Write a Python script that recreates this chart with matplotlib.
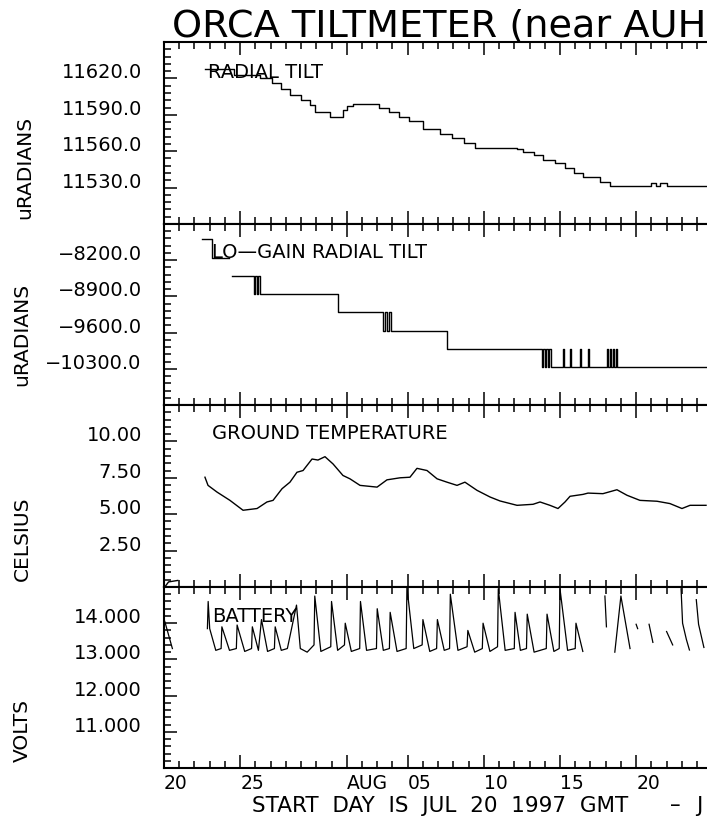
import matplotlib.pyplot as plt
import numpy as np

# x axis: days since JUL 20 1997 (GMT)
day_ticks = [0, 5, 12, 16, 21, 26, 31]
day_labels = ['20', '25', 'AUG', '05', '10', '15', '20']

# radial tilt (uRADIANS), step values
tilt_day = [2.7, 4.6, 6.3, 7.1, 7.7, 8.3, 9.0, 9.6, 9.9, 10.9, 11.75, 12.0, 12.4,
            14.1, 14.8, 15.4, 16.1, 17.0, 18.1, 18.9, 19.7, 20.4, 23.2, 23.6, 24.3,
            24.9, 25.7, 26.3, 26.9, 27.5, 28.6, 29.3, 32.0, 32.3, 32.6, 33.0, 35.6]
tilt_val = [11628, 11623, 11620, 11616, 11611, 11606, 11602, 11598, 11592, 11588,
            11594, 11597, 11599, 11596, 11592, 11588, 11585, 11578, 11574, 11571,
            11567, 11563, 11562, 11559, 11557, 11553, 11550, 11546, 11542, 11539,
            11535, 11531, 11534, 11531, 11534, 11531, 11531]
tilt_ticks = [11530, 11560, 11590, 11620]
tilt_labels = ['11530.0', '11560.0', '11590.0', '11620.0']

# lo-gain radial tilt (uRADIANS), step values
lo_day = [2.5, 3.15, 4.3, 4.45, 5.9, 6.0, 6.1, 6.2, 6.3, 11.4, 14.38, 14.5, 14.64,
          14.75, 14.9, 18.6, 24.8, 24.9, 25.0, 25.1, 25.2, 25.3, 25.4, 26.2, 26.25,
          26.65, 26.7, 27.3, 27.35, 27.85, 27.9, 29.1, 29.15, 29.3, 29.35, 29.5,
          29.55, 29.7, 29.75, 35.6]
lo_val = [-7790, -8150, np.nan, -8500, -8860, -8500, -8860, -8500, -8860, -9205,
          -9565, -9205, -9565, -9205, -9565, -9910, -10270, -9910, -10270, -9910,
          -10270, -9910, -10270, -9910, -10270, -9910, -10270, -9910, -10270,
          -9910, -10270, -9910, -10270, -9910, -10270, -9910, -10270, -9910,
          -10270, -10270]
lo_ticks = [-10300, -9600, -8900, -8200]
lo_labels = ['\u221210300.0', '\u22129600.0', '\u22128900.0', '\u22128200.0']

# ground temperature (CELSIUS)
temp_day = [0.05, 0.3, 0.9, 1.0,
            2.69, 2.89, 3.48, 4.33, 5.19, 6.11, 6.76, 7.16, 7.75, 8.27,
            8.73, 9.13, 9.72, 10.11, 10.57, 11.10, 11.75, 12.21, 12.87, 13.99,
            14.64, 15.50, 16.15, 16.61, 17.27, 17.93, 18.58, 19.24, 19.76, 20.55,
            21.41, 22.06, 23.18, 24.23, 24.69, 25.34, 25.87, 26.33, 26.66, 27.51,
            27.84, 28.82, 29.74, 30.40, 31.25, 32.37, 33.22, 34.01, 34.54, 35.59]
temp_val = [0.0, 0.35, 0.45, np.nan,
            7.54, 6.98, 6.52, 5.95, 5.27, 5.39, 5.84, 5.95, 6.75, 7.20,
            7.88, 8.00, 8.79, 8.72, 8.95, 8.45, 7.66, 7.43, 6.98, 6.86,
            7.36, 7.50, 7.54, 8.15, 8.00, 7.43, 7.20, 6.98, 7.20, 6.64,
            6.18, 5.91, 5.61, 5.68, 5.84, 5.61, 5.39, 5.84, 6.23, 6.36,
            6.45, 6.41, 6.68, 6.30, 5.95, 5.89, 5.73, 5.39, 5.61, 5.61]
temp_ticks = [2.5, 5.0, 7.5, 10.0]
temp_labels = ['2.50', '5.00', '7.50', '10.00']

# battery (VOLTS)
bat_day = [0.05, 0.55, 0.6,
           2.85, 2.90, 3.00, 3.40, 3.75, 3.80, 4.30, 4.75, 4.80, 5.30, 5.75, 5.80,
           6.20, 6.40, 6.80, 7.25, 7.30, 7.70, 8.10, 8.70, 8.95, 9.40, 9.85, 9.90,
           10.30, 10.95, 11.00, 11.40, 11.85, 11.90, 12.30, 12.85, 12.90, 13.30,
           13.95, 14.00, 14.40, 14.80, 14.85, 15.30, 15.90, 15.95, 16.40, 16.95,
           17.00, 17.45, 17.90, 17.95, 18.40, 18.75, 18.80, 19.30, 19.90, 19.95,
           20.40, 20.90, 20.95, 21.40, 21.90, 21.95, 22.40, 23.00, 23.05, 23.40,
           23.80, 23.85, 24.30, 25.10, 25.15, 25.60, 25.95, 26.00, 26.50, 27.00,
           27.05, 27.50, 27.60, 28.60, 28.65, 28.95, 29.05, 29.10, 29.60, 30.00,
           30.60, 30.70, 31.00, 31.10, 31.20, 31.85, 32.10, 32.20, 32.55, 32.60,
           33.00, 33.40, 33.50, 33.95, 34.05, 34.30, 34.50, 34.60, 34.95, 35.10,
           35.45]
bat_val = [14.05, 13.30, np.nan,
           13.85, 14.60, 13.85, 13.25, 13.30, 13.90, 13.25, 13.30, 13.95, 13.22,
           13.30, 13.90, 13.25, 14.10, 13.22, 13.30, 13.90, 13.25, 13.30, 14.50,
           13.30, 13.20, 13.40, 14.75, 13.22, 13.35, 14.60, 13.25, 13.40, 14.00,
           13.22, 13.30, 14.60, 13.25, 13.30, 14.40, 13.25, 13.30, 14.30, 13.22,
           13.30, 15.00, 13.30, 13.40, 14.10, 13.22, 13.30, 14.10, 13.25, 13.30,
           14.80, 13.25, 13.35, 13.80, 13.20, 13.30, 14.00, 13.22, 13.35, 14.95,
           13.25, 13.30, 14.30, 13.25, 13.30, 14.25, 13.20, 13.30, 14.25, 13.22,
           13.30, 14.95, 13.25, 13.30, 14.00, 13.22, np.nan, 13.25, np.nan, 14.75,
           13.90, np.nan, 13.20, 14.75, 13.30, np.nan, 13.97, 13.85, np.nan, 13.97,
           13.47, np.nan, 13.26, np.nan, 13.77, 13.40, np.nan, 14.95, 14.00, 13.55,
           13.26, np.nan, 14.65, 13.97, 13.33]
bat_ticks = [11, 12, 13, 14]
bat_labels = ['11.000', '12.000', '13.000', '14.000']

W, H = 707, 817
PX_PER_DAY = 15.23
X0 = 164
panel_edges = [42, 224, 405, 587, 768]

fig = plt.figure(figsize=(W / 100, H / 100), dpi=100)
plt.rcParams['font.family'] = 'DejaVu Sans'


def make_panel(i, ylim, ticks, labels, minor_step):
    top, bot = panel_edges[i], panel_edges[i + 1]
    ax = fig.add_axes([X0 / W, 1 - bot / H, 40 * PX_PER_DAY / W, (bot - top) / H])
    ax.set_xlim(0, 40)
    ax.set_ylim(*ylim)
    ax.set_xticks(day_ticks)
    ax.set_xticks(np.arange(0, 41, 1), minor=True)
    ax.set_yticks(ticks)
    ax.set_yticklabels(labels)
    ax.set_yticks(np.arange(ylim[0], ylim[1] + minor_step / 2, minor_step), minor=True)
    ax.tick_params(which='both', direction='in', top=True, bottom=True,
                   left=True, right=False, width=1.1, color='black')
    ax.tick_params(which='major', length=9.5)
    ax.tick_params(which='minor', length=5)
    ax.tick_params(axis='y', labelsize=14, pad=16)
    for lbl in ax.get_yticklabels():
        lbl.set_va('baseline')
    if i == 3:
        ax.set_xticklabels(day_labels)
        ax.tick_params(axis='x', labelsize=13.5, pad=4.5)
        for lbl in ax.get_xticklabels():
            lbl.set_ha('left')
    else:
        ax.set_xticklabels([])
    for s in ax.spines.values():
        s.set_linewidth(1.5)
    return ax


ax1 = make_panel(0, (11500, 11650), tilt_ticks, tilt_labels, 6)
ax1.step(tilt_day, tilt_val, where='post', color='black', lw=1.0)
ax1.text(2.9, 11625, 'RADIAL TILT', fontsize=14, va='center', ha='left')

ax2 = make_panel(1, (-11000, -7500), lo_ticks, lo_labels, 140)
ax2.step(lo_day, lo_val, where='post', color='black', lw=1.0)
ax2.text(3.15, -8059, 'LO\u2014GAIN RADIAL TILT', fontsize=14, va='center', ha='left')

ax3 = make_panel(2, (0, 12.5), temp_ticks, temp_labels, 0.5)
ax3.plot(temp_day, temp_val, color='black', lw=1.0)
ax3.text(3.15, 10.52, 'GROUND TEMPERATURE', fontsize=14, va='center', ha='left')

ax4 = make_panel(3, (10, 15), bat_ticks, bat_labels, 0.2)
ax4.plot(bat_day, bat_val, color='black', lw=0.9)
ax4.text(3.15, 14.19, 'BATTERY', fontsize=14, va='center', ha='left')

# axis titles placed by pixel position
for txt, cx, cy in [('uRADIANS', 25, 167), ('uRADIANS', 22, 334),
                    ('CELSIUS', 22, 539), ('VOLTS', 22, 731)]:
    fig.text(cx / W, 1 - cy / H, txt, rotation=90, fontsize=14.5,
             ha='center', va='center')

fig.text(172 / W, 1 - 36 / H, 'ORCA TILTMETER (near AUH', fontsize=27.5,
         ha='left', va='baseline')
fig.text(252 / W, 1 - 811.5 / H, 'START  DAY  IS  JUL  20  1997  GMT', fontsize=15.5,
         ha='left', va='baseline')
fig.text(670 / W, 1 - 811.5 / H, '\u2013', fontsize=15.5, ha='left', va='baseline')
fig.text(696 / W, 1 - 811.5 / H, 'J', fontsize=15.5, ha='left', va='baseline')

fig.savefig('out.png', dpi=100)
